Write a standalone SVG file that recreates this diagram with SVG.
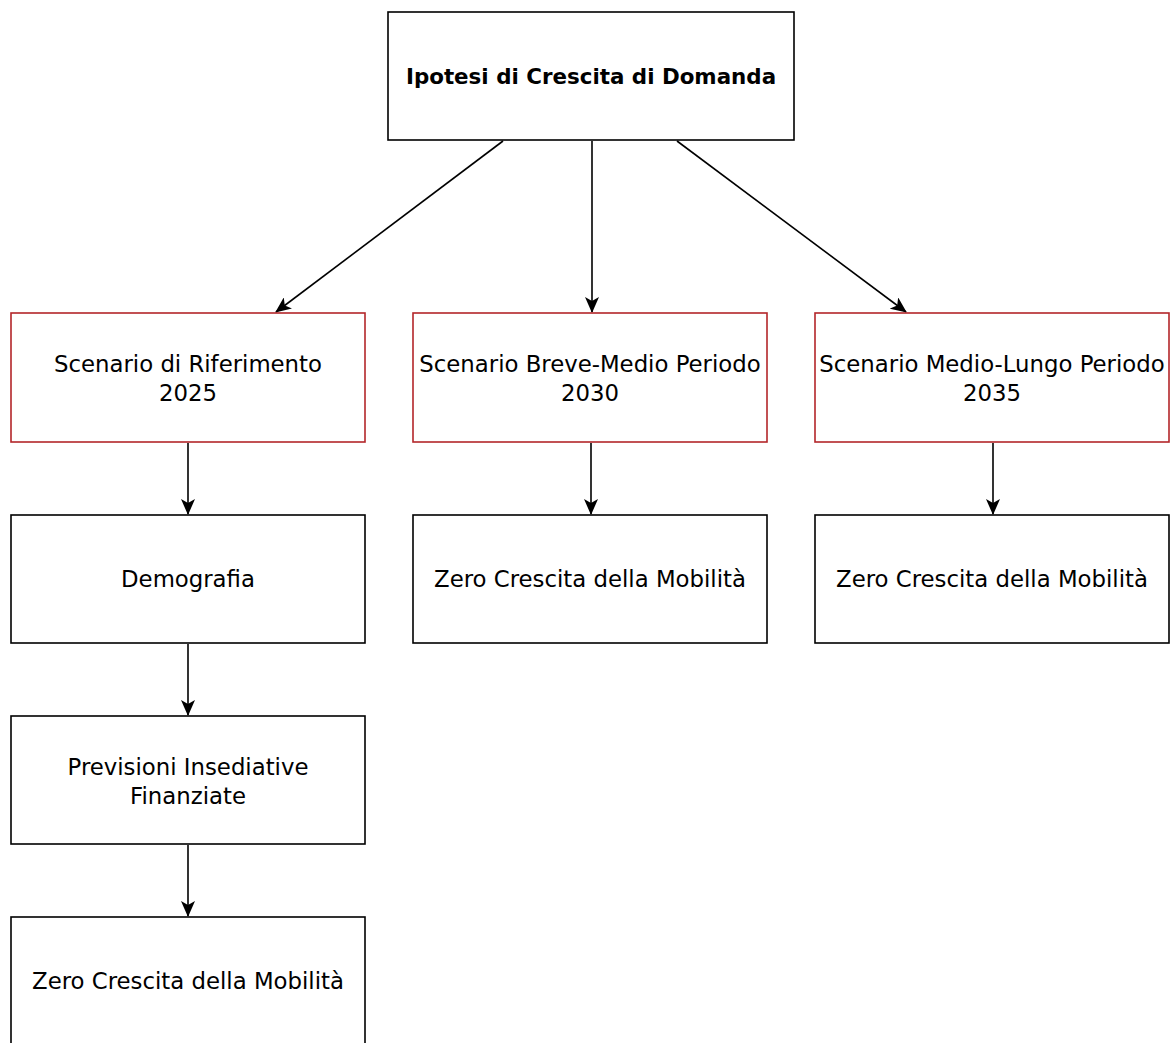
<svg xmlns="http://www.w3.org/2000/svg" width="1170" height="1043" viewBox="0 0 1170 1043">
  <style>
    .box { fill: #ffffff; stroke: #000000; stroke-width: 1.6; }
    .scen { fill: #ffffff; stroke: #b3262a; stroke-width: 1.6; }
    .lbl { font-family: "DejaVu Sans", Verdana, sans-serif; font-size: 22.8px; fill: #000000; text-anchor: middle; }
    .title { font-weight: bold; font-size: 21.4px; }
    .edge { fill: none; stroke: #000000; stroke-width: 1.6; }
  </style>
  <defs>
    <marker id="arrow" viewBox="0 0 16 14" refX="15" refY="7" markerWidth="16" markerHeight="14" markerUnits="userSpaceOnUse" orient="auto">
      <path d="M0,0 L16,7 L0,14 L4,7 Z" fill="#000000"/>
    </marker>
  </defs>
  <rect width="1170" height="1043" fill="#ffffff"/>

  <g id="connectors">
    <line class="edge" x1="503" y1="141" x2="276" y2="312" marker-end="url(#arrow)"/>
    <line class="edge" x1="592" y1="141" x2="592" y2="312" marker-end="url(#arrow)"/>
    <line class="edge" x1="677" y1="141" x2="906" y2="312" marker-end="url(#arrow)"/>
    <line class="edge" x1="188" y1="443" x2="188" y2="514" marker-end="url(#arrow)"/>
    <line class="edge" x1="188" y1="644" x2="188" y2="715" marker-end="url(#arrow)"/>
    <line class="edge" x1="188" y1="845" x2="188" y2="916" marker-end="url(#arrow)"/>
    <line class="edge" x1="591" y1="443" x2="591" y2="514" marker-end="url(#arrow)"/>
    <line class="edge" x1="993" y1="443" x2="993" y2="514" marker-end="url(#arrow)"/>
  </g>

  <g id="ipotesi">
    <rect class="box" x="388" y="12" width="406" height="128"/>
    <text class="lbl title" x="591" y="84">Ipotesi di Crescita di Domanda</text>
  </g>

  <g id="scenario-2025">
    <rect class="scen" x="11" y="313" width="354" height="129"/>
    <text class="lbl" x="188" y="372">Scenario di Riferimento</text>
    <text class="lbl" x="188" y="401">2025</text>
  </g>

  <g id="scenario-2030">
    <rect class="scen" x="413" y="313" width="354" height="129"/>
    <text class="lbl" x="590" y="372">Scenario Breve-Medio Periodo</text>
    <text class="lbl" x="590" y="401">2030</text>
  </g>

  <g id="scenario-2035">
    <rect class="scen" x="815" y="313" width="354" height="129"/>
    <text class="lbl" x="992" y="372">Scenario Medio-Lungo Periodo</text>
    <text class="lbl" x="992" y="401">2035</text>
  </g>

  <g id="demografia">
    <rect class="box" x="11" y="515" width="354" height="128"/>
    <text class="lbl" x="188" y="587">Demografia</text>
  </g>

  <g id="zero-2030">
    <rect class="box" x="413" y="515" width="354" height="128"/>
    <text class="lbl" x="590" y="587">Zero Crescita della Mobilità</text>
  </g>

  <g id="zero-2035">
    <rect class="box" x="815" y="515" width="354" height="128"/>
    <text class="lbl" x="992" y="587">Zero Crescita della Mobilità</text>
  </g>

  <g id="previsioni">
    <rect class="box" x="11" y="716" width="354" height="128"/>
    <text class="lbl" x="188" y="775">Previsioni Insediative</text>
    <text class="lbl" x="188" y="804">Finanziate</text>
  </g>

  <g id="zero-2025">
    <rect class="box" x="11" y="917" width="354" height="140"/>
    <text class="lbl" x="188" y="989">Zero Crescita della Mobilità</text>
  </g>
</svg>
